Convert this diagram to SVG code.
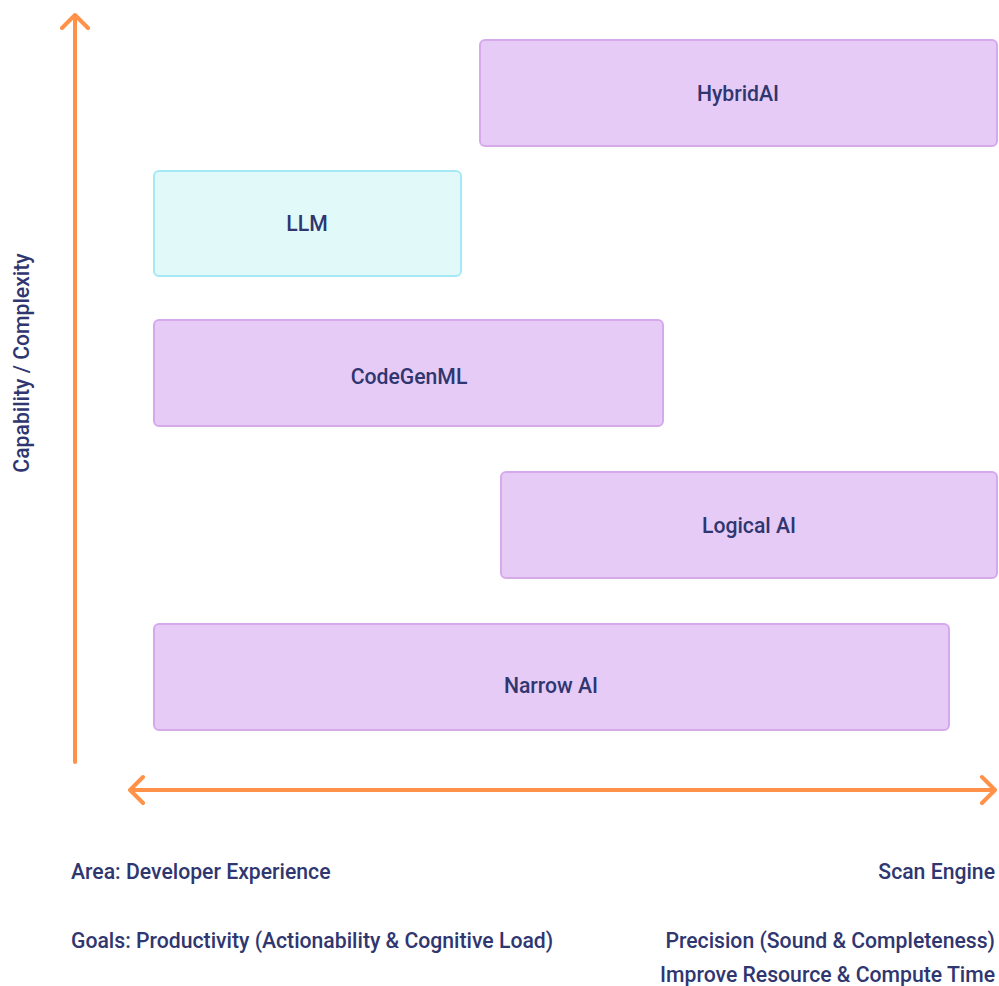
<svg xmlns="http://www.w3.org/2000/svg" width="999" height="986" viewBox="0 0 999 986">
<style>
text{font-family:Roboto,"Liberation Sans",sans-serif;font-weight:500;font-size:21.2px;fill:#2f3670}
.lbl{text-anchor:middle;dominant-baseline:central}
.purple{fill:#e6cbf7;stroke:#d6aaea;stroke-width:2}
.cyan{fill:#e2f9f9;stroke:#a5e9f6;stroke-width:2}
.axis{fill:none;stroke:#ff9148;stroke-width:4;stroke-linecap:round;stroke-linejoin:round}
.end{text-anchor:end}
</style>
<rect width="999" height="986" fill="#fff"/>
<g id="connectors">
<path class="axis" d="M75 762 V15 M62 28 L75 15 L88 28"/>
<path class="axis" d="M130 790 H995 M143 777 L130 790 L143 803 M982 777 L995 790 L982 803"/>
</g>
<g id="HybridAI"><rect class="purple" x="480" y="40" width="517" height="106" rx="5"/><text class="lbl" x="738" y="93">HybridAI</text></g>
<g id="LLM"><rect class="cyan" x="154" y="171" width="307" height="105" rx="5"/><text class="lbl" x="307" y="223">LLM</text></g>
<g id="CodeGenML"><rect class="purple" x="154" y="320" width="509" height="106" rx="5"/><text class="lbl" x="409" y="376">CodeGenML</text></g>
<g id="LogicalAI"><rect class="purple" x="501" y="472" width="496" height="106" rx="5"/><text class="lbl" x="749" y="525">Logical AI</text></g>
<g id="NarrowAI"><rect class="purple" x="154" y="624" width="795" height="106" rx="5"/><text class="lbl" x="551" y="685">Narrow AI</text></g>
<g id="labels">
<text class="lbl" transform="translate(21 363) rotate(-90)">Capability / Complexity</text>
<text x="71" y="879">Area: Developer Experience</text>
<text x="71" y="948">Goals: Productivity (Actionability &amp; Cognitive Load)</text>
<text class="end" x="995" y="879">Scan Engine</text>
<text class="end" x="995" y="948">Precision (Sound &amp; Completeness)</text>
<text class="end" x="995" y="982">Improve Resource &amp; Compute Time</text>
</g>
</svg>
